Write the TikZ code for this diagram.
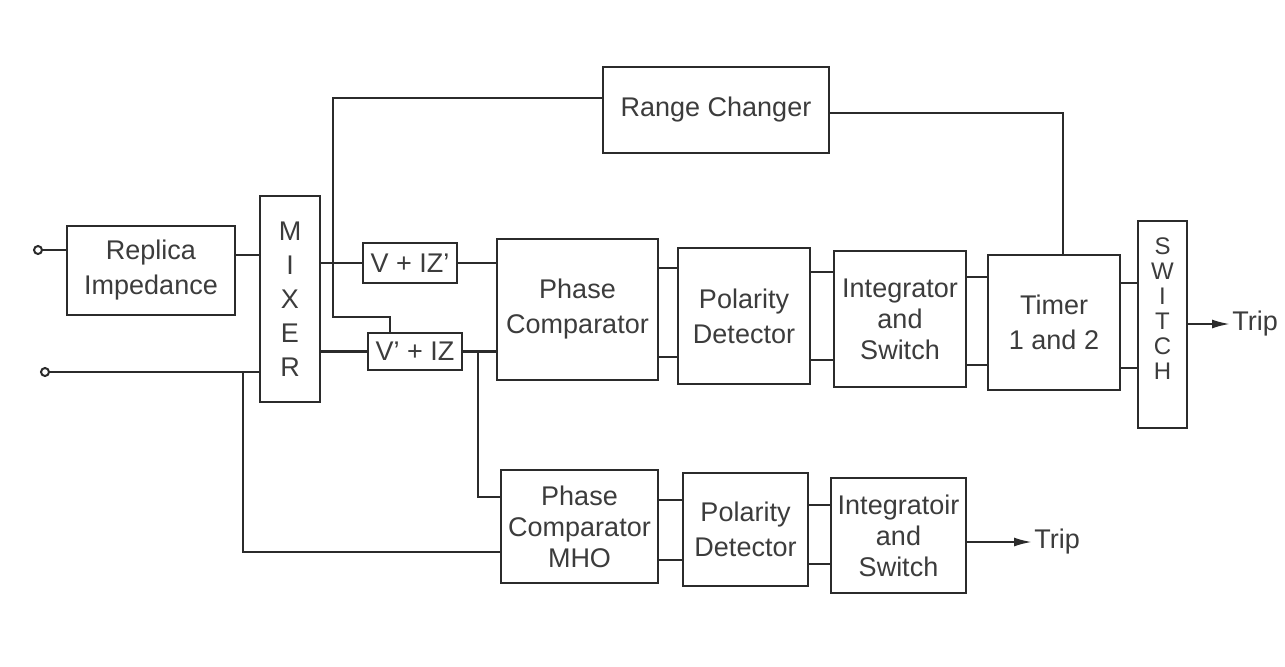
\documentclass[tikz,border=0pt]{standalone}
\usepackage{fontspec}
\setmainfont{Liberation Sans}
\usetikzlibrary{arrows.meta}
\definecolor{ink}{HTML}{2B2B2B}
\definecolor{txt}{HTML}{3C3C3C}
\tikzset{
  blk/.style={draw=ink, line width=1.1pt, align=center, text=txt, inner sep=0pt,
    font=\fontsize{13.5}{17.5}\selectfont},
  tall/.style={blk, font=\fontsize{13.5}{17}\selectfont},
  swt/.style={blk, font=\fontsize{12}{12.5}\selectfont, text depth=16pt},
  intg/.style={blk, font=\fontsize{13.5}{15.5}\selectfont},
  wire/.style={draw=ink, line width=1.1pt},
  term/.style={circle, draw=ink, line width=1pt, inner sep=0pt, minimum size=4pt},
  lbl/.style={text=txt, inner sep=1pt, font=\fontsize{13.5}{16}\selectfont},
  trip/.style={wire, -{Latex[length=9pt,width=4.5pt]}}
}
\begin{document}
\begin{tikzpicture}[x=0.5pt,y=-0.5pt]
\useasboundingbox[fill=white] (0,0) rectangle (1285,666);
% blocks
\node[blk, minimum width=168*0.5pt, minimum height=89*0.5pt] (rep) at (151,270.5) {Replica\\Impedance};
\node[tall, minimum width=60*0.5pt, minimum height=206*0.5pt] (mix) at (290,299) {M\\I\\X\\E\\R};
\node[blk, minimum width=226*0.5pt, minimum height=86*0.5pt] (rc) at (716,110) {Range Changer};
\node[blk, minimum width=94*0.5pt, minimum height=40*0.5pt] (v1) at (410,263) {V + IZ'};
\node[blk, minimum width=94*0.5pt, minimum height=37*0.5pt] (v2) at (415,351.5) {V' + IZ};
\node[blk, minimum width=161*0.5pt, minimum height=141*0.5pt] (pc) at (577.5,309.5) {Phase\\Comparator};
\node[blk, minimum width=132*0.5pt, minimum height=136*0.5pt] (pd) at (744,316) {Polarity\\Detector};
\node[intg, minimum width=132*0.5pt, minimum height=136*0.5pt] (is) at (900,319) {Integrator\\and\\Switch};
\node[blk, minimum width=132*0.5pt, minimum height=135*0.5pt] (tm) at (1054,322.5) {Timer\\1 and 2};
\node[swt, minimum width=49*0.5pt, minimum height=207*0.5pt] (sw) at (1162.5,324.5) {S\\W\\I\\T\\C\\H};
\node[intg, minimum width=157*0.5pt, minimum height=113*0.5pt] (mho) at (579.5,526.5) {Phase\\Comparator\\MHO};
\node[blk, minimum width=125*0.5pt, minimum height=113*0.5pt] (pd2) at (745.5,529.5) {Polarity\\Detector};
\node[intg, minimum width=135*0.5pt, minimum height=115*0.5pt] (is2) at (898.5,535.5) {Integratoir\\and\\Switch};
% terminals and labels
\node[term] (t1) at (38,250) {};
\node[term] (t2) at (45,372) {};
\node[lbl, anchor=west] (trip1) at (1230,324) {Trip};
\node[lbl, anchor=west] (trip2) at (1032,542) {Trip};
\coordinate (j1) at (243,372);
\coordinate (j2) at (478,352);
\coordinate (rcl) at (333,98);
\coordinate (rcd) at (333,317);
\coordinate (rcr) at (390,317);
% wires
\draw[wire] (t1.east) -- (rep.west |- t1);
\draw[wire] (rep.east |- 0,255) -- (mix.west |- 0,255);
\draw[wire] (t2.east) -- (mix.west |- t2);
\draw[wire] (j1) |- (mho.west |- 0,552);
\draw[wire] (mix.east |- v1.west) -- (v1.west);
\draw[wire] (mix.east |- v2.west) -- (v2.west);
\draw[wire] (v1.east) -- (pc.west |- v1.east);
\draw[wire] (v2.east) -- (pc.west |- v2.east);
\draw[wire] (j2) |- (mho.west |- 0,497);
\draw[wire] (rc.west |- rcl) -- (rcl) -- (rcd) -- (rcr) -- (v2.north -| rcr);
\draw[wire] (rc.east |- 0,113) -| (tm.north -| 1063,0);
\foreach \ya/\yb/\a/\b in {268/357/pc/pd, 272/360/pd/is, 277/365/is/tm, 283/368/tm/sw, 500/560/mho/pd2, 505/564/pd2/is2}{
  \draw[wire] (\a.east |- 0,\ya) -- (\b.west |- 0,\ya);
  \draw[wire] (\a.east |- 0,\yb) -- (\b.west |- 0,\yb);
}
\draw[trip] (sw.east |- trip1) -- (trip1.west);
\draw[trip] (is2.east |- trip2) -- (trip2.west);
\end{tikzpicture}
\end{document}
